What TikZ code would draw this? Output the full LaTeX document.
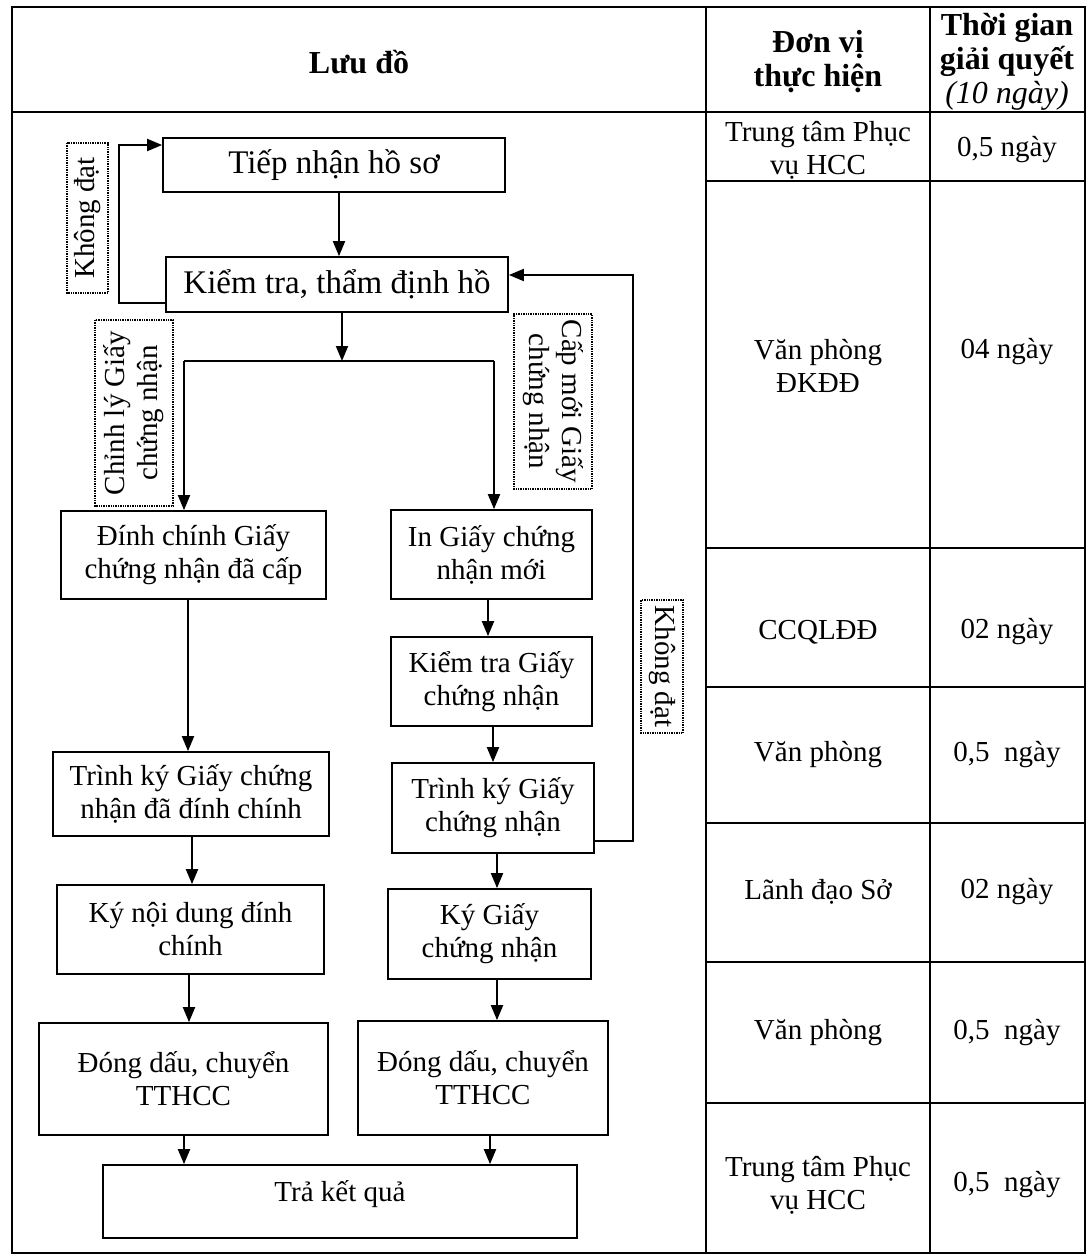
\documentclass[tikz,border=0pt]{standalone}
\usepackage{fontspec}
\setmainfont{Liberation Serif}
\usetikzlibrary{arrows.meta}
\begin{document}
\begin{tikzpicture}[x=1pt,y=-1pt,
  box/.style={draw, line width=1.7pt, align=center, inner sep=2pt, font=\fontsize{29pt}{33pt}\selectfont},
  bigbox/.style={box, font=\fontsize{33pt}{36pt}\selectfont},
  lbl/.style={draw, densely dotted, line width=1.4pt, align=center, inner sep=2pt, font=\fontsize{29pt}{33pt}\selectfont},
  arr/.style={line width=1.9pt, -{Triangle[length=15pt,width=12pt]}},
  ln/.style={line width=1.9pt},
  tbl/.style={line width=1.9pt},
  cell/.style={align=center, inner sep=0pt, font=\fontsize{29pt}{33pt}\selectfont},
  hdr/.style={align=center, inner sep=0pt, font=\bfseries\fontsize{32pt}{34pt}\selectfont}]
\useasboundingbox (0,0) rectangle (1088,1259);
% table frame
\draw[tbl] (12,7) rectangle (1085,1253);
\draw[tbl] (12,112) -- (1085,112);
\draw[tbl] (706,7) -- (706,1253);
\draw[tbl] (930,7) -- (930,1253);
\foreach \yy in {181,548,687,823,962,1103} \draw[tbl] (706,\yy) -- (1085,\yy);
% headers
\node[hdr] (h1) at (359,62) {Lưu đồ};
\node[hdr] (h2) at (818,62) {Đơn vị\\thực hiện};
\node[hdr] (h3) at (1007,62) {Thời gian\\giải quyết\\{\mdseries\itshape (10 ngày)}};
% right columns
\node[cell] (r1a) at (818,150) {Trung tâm Phục\\vụ HCC};
\node[cell] (r1b) at (1007,150) {0,5 ngày};
\node[cell] (r2a) at (818,366) {Văn phòng\\ĐKĐĐ};
\node[cell] (r2b) at (1007,352) {04 ngày};
\node[cell] (r3a) at (818,632) {CCQLĐĐ};
\node[cell] (r3b) at (1007,632) {02 ngày};
\node[cell] (r4a) at (818,755) {Văn phòng};
\node[cell] (r4b) at (1007,755) {0,5\ \ ngày};
\node[cell] (r5a) at (818,892) {Lãnh đạo Sở};
\node[cell] (r5b) at (1007,892) {02 ngày};
\node[cell] (r6a) at (818,1033) {Văn phòng};
\node[cell] (r6b) at (1007,1033) {0,5\ \ ngày};
\node[cell] (r7a) at (818,1185) {Trung tâm Phục\\vụ HCC};
\node[cell] (r7b) at (1007,1185) {0,5\ \ ngày};
% flowchart boxes
\node[bigbox, minimum width=342pt, minimum height=54pt] (tiep) at (334,165) {Tiếp nhận hồ sơ};
\node[bigbox, minimum width=342pt, minimum height=55pt] (ktra) at (337,284.5) {Kiểm tra, thẩm định hồ};
\node[box, minimum width=265pt, minimum height=88pt] (dinh) at (193.5,555) {Đính chính Giấy\\chứng nhận đã cấp};
\node[box, minimum width=201pt, minimum height=89pt] (ing) at (491.5,554.5) {In Giấy chứng\\nhận mới};
\node[box, minimum width=201pt, minimum height=89pt] (ktg) at (491.5,681.5) {Kiểm tra Giấy\\chứng nhận};
\node[box, minimum width=276pt, minimum height=84pt] (trl) at (191,794) {Trình ký Giấy chứng\\nhận đã đính chính};
\node[box, minimum width=202pt, minimum height=90pt] (trr) at (493,808) {Trình ký Giấy\\chứng nhận};
\node[box, minimum width=267pt, minimum height=89pt] (kyl) at (190.5,929.5) {Ký nội dung đính\\chính};
\node[box, minimum width=203pt, minimum height=90pt] (kyr) at (489.5,934) {Ký Giấy\\chứng nhận};
\node[box, minimum width=289pt, minimum height=112pt] (dl) at (183.5,1079) {Đóng dấu, chuyển\\TTHCC};
\node[box, minimum width=250pt, minimum height=114pt] (dr) at (483,1078) {Đóng dấu, chuyển\\TTHCC};
\node[box, minimum width=474pt, minimum height=73pt, text height=22pt, text depth=22pt] (tra) at (340,1201.5) {Trả kết quả};
% labels
\node[lbl, rotate=90, minimum width=150pt, minimum height=41pt] (kd1) at (87.5,218) {Không đạt};
\node[lbl, rotate=90, minimum width=186pt, minimum height=78pt] (chl) at (134,413) {Chỉnh lý Giấy\\chứng nhận};
\node[lbl, rotate=-90, minimum width=175pt, minimum height=78pt] (cpm) at (553,401.5) {Cấp mới Giấy\\chứng nhận};
\node[lbl, rotate=-90, minimum width=133pt, minimum height=42pt] (kd2) at (662,666.5) {Không đạt};
% connectors
\coordinate (splitM) at (342,361);
\coordinate (splitL) at (184,361);
\coordinate (splitR) at (494,361);
\draw[arr] (339,0 |- tiep.south) -- (339,0 |- ktra.north);
\draw[arr] (342,0 |- ktra.south) -- (splitM);
\draw[ln] (splitL) -- (splitR);
\draw[arr] (splitL) -- (184,0 |- dinh.north);
\draw[arr] (splitR) -- (494,0 |- ing.north);
\draw[arr] (ktra.west |- 0,303) -- (119,303) -- (119,145) -- (tiep.west |- 0,145);
\draw[arr] (trr.east |- 0,841) -- (633,841) -- (633,275) -- (ktra.east |- 0,275);
\draw[arr] (188,0 |- dinh.south) -- (188,0 |- trl.north);
\draw[arr] (488,0 |- ing.south) -- (488,0 |- ktg.north);
\draw[arr] (493,0 |- ktg.south) -- (493,0 |- trr.north);
\draw[arr] (192,0 |- trl.south) -- (192,0 |- kyl.north);
\draw[arr] (497,0 |- trr.south) -- (497,0 |- kyr.north);
\draw[arr] (189,0 |- kyl.south) -- (189,0 |- dl.north);
\draw[arr] (497,0 |- kyr.south) -- (497,0 |- dr.north);
\draw[arr] (184,0 |- dl.south) -- (184,0 |- tra.north);
\draw[arr] (490,0 |- dr.south) -- (490,0 |- tra.north);
\end{tikzpicture}
\end{document}
